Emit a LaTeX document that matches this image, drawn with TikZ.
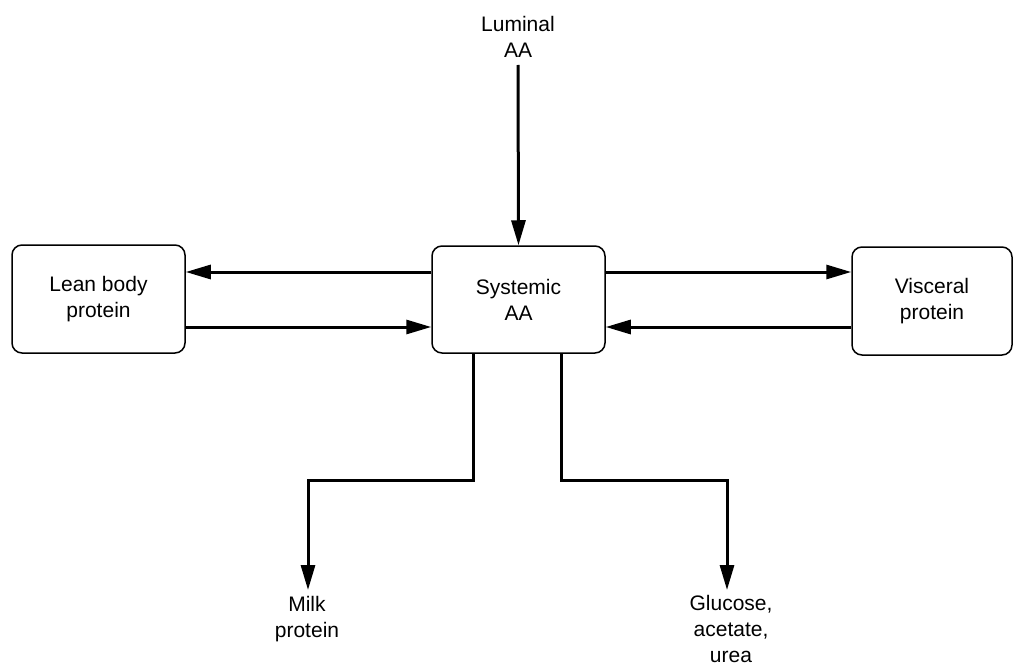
\documentclass[tikz,border=0pt]{standalone}
\usepackage{fontspec}
\setmainfont{Liberation Sans}
\usetikzlibrary{arrows.meta,calc}
\begin{document}
\begin{tikzpicture}[x=1pt,y=-1pt,
  font=\fontsize{21}{26}\selectfont,
  box/.style={draw,line width=1.5pt,rounded corners=10pt,align=center,inner sep=0pt},
  lbl/.style={align=center,inner sep=1pt},
  arr/.style={line width=3pt,-{Triangle[length=25pt,width=14pt]}}]
\useasboundingbox (0,0) rectangle (1016,666);
\node[box,minimum width=173pt,minimum height=108pt] (lean) at (98.5,299) {Lean body\\protein};
\node[box,minimum width=173pt,minimum height=107pt] (sys) at (518.5,299.5) {Systemic\\AA};
\node[box,minimum width=160pt,minimum height=108pt] (visc) at (932,301) {Visceral\\protein};
\node[lbl] (lum) at (518,37) {Luminal\\AA};
\node[lbl] (milk) at (307,619) {Milk\\protein};
\node[lbl] (glu) at (731,629) {Glucose,\\acetate,\\urea};
\coordinate (l0) at (518,65);
\draw[arr] (l0) -- (sys.north);
\draw[arr] ([yshift=27.5pt]sys.west) -- ([yshift=27pt]lean.east);
\draw[arr] ([yshift=-28pt]lean.east) -- ([yshift=-27.5pt]sys.west);
\draw[arr] ([yshift=27.5pt]sys.east) -- ([yshift=29pt]visc.west);
\draw[arr] ([yshift=-26pt]visc.west) -- ([yshift=-27.5pt]sys.east);
\coordinate (m1) at (308,480);
\coordinate (g1) at (727,480);
\coordinate (m2) at (308,590);
\coordinate (g2) at (727,590);
\draw[arr] ([xshift=-45pt]sys.south) |- (m1) -- (m2);
\draw[arr] ([xshift=43pt]sys.south) |- (g1) -- (g2);
\end{tikzpicture}
\end{document}
